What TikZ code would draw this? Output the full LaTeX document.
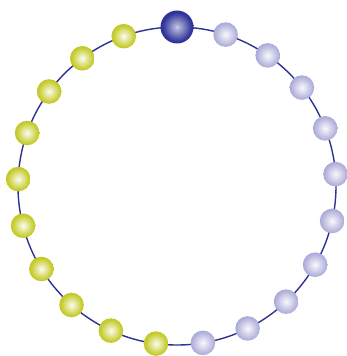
\documentclass[tikz,border=0pt]{standalone}
\usetikzlibrary{calc}
\definecolor{ringc}{HTML}{2E3192}
\definecolor{dkc}{HTML}{30339A}
\definecolor{dke}{HTML}{262980}
\definecolor{pc}{HTML}{ABABD9}
\definecolor{pe}{HTML}{9A9BCC}
\definecolor{gc}{HTML}{C5CB2A}
\definecolor{ge}{HTML}{B5BB1A}
\pgfdeclareradialshading{dkshade}{\pgfpoint{0bp}{0bp}}{color(0bp)=(white!85!dkc); color(2bp)=(white!65!dkc); color(22bp)=(dkc); color(50bp)=(dke)}
\pgfdeclareradialshading{pshade}{\pgfpoint{0bp}{0bp}}{color(0bp)=(white); color(2bp)=(white!85!pc); color(24bp)=(pc); color(50bp)=(pe)}
\pgfdeclareradialshading{gshade}{\pgfpoint{0bp}{0bp}}{color(0bp)=(white); color(2bp)=(white!85!gc); color(22bp)=(gc); color(50bp)=(ge)}
\tikzset{
  ballbase/.style={circle, inner sep=0pt, draw=none},
  bigball/.style={ballbase, minimum size=33pt, shading=dkshade},
  pball/.style={ballbase, minimum size=24.6pt, shading=pshade},
  gball/.style={ballbase, minimum size=24.6pt, shading=gshade},
  ring/.style={draw=ringc, line width=1.4pt}
}
\begin{document}
\begin{tikzpicture}[x=1pt,y=1pt]
\useasboundingbox (0,0) rectangle (347,356);
\coordinate (ctr) at (177,170);
\draw[ring] (ctr) circle (159);
\node[bigball] (b0) at ($(ctr)+(90:159)$) {};
\foreach \i in {1,...,10} {
  \node[pball] (p\i) at ($(ctr)+({72.2-(\i-1)*16.98}:159)$) {};
}
\foreach \i in {11,...,20} {
  \node[gball] (g\i) at ($(ctr)+({72.2-(\i-1)*16.98}:159)$) {};
}
\end{tikzpicture}
\end{document}
